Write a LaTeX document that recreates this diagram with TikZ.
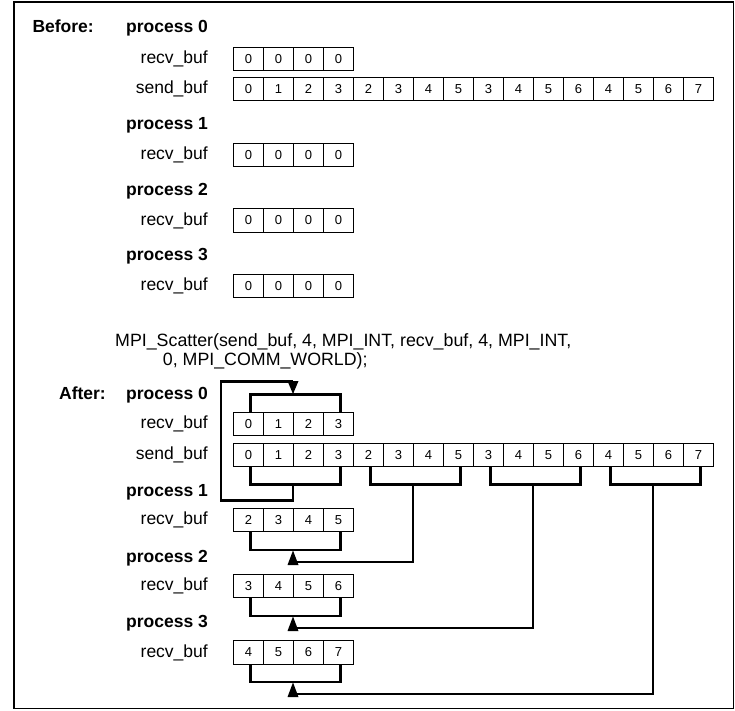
\documentclass[tikz,border=0pt]{standalone}
\usepackage{fontspec}
\setmainfont{Liberation Sans}
\begin{document}
\begin{tikzpicture}[x=1pt,y=-1pt,
  cellbox/.style={draw,line width=0.8pt,minimum width=30pt,minimum height=23.5pt,inner sep=0pt,font=\fontsize{13}{13}\selectfont,anchor=west},
  lbl/.style={anchor=base east,inner sep=0pt,font=\fontsize{17.5}{17.5}\selectfont},
  proc/.style={anchor=base west,inner sep=0pt,font=\fontsize{17.5}{17.5}\selectfont\bfseries},
  hdr/.style={anchor=base east,inner sep=0pt,font=\fontsize{17.5}{17.5}\selectfont\bfseries},
  calltxt/.style={anchor=west,inner sep=0pt,font=\fontsize{17.8}{17.8}\selectfont},
  conn/.style={line width=2.8pt,line join=miter},
  tip/.style={fill=black}]
\useasboundingbox (0,0) rectangle (735,710);
\draw[line width=1.2pt] (14,1.5) rectangle (733.5,708.5);
\draw[line width=2pt] (14,708.5) -- (14,1.5) -- (733.5,1.5);

% ---------- Before ----------
\node[hdr] (before) at (94,32.3) {Before:};
\node[proc] (bp0) at (126,32.3) {process 0};
\node[lbl] (br0l) at (208,63.5) {recv\_buf};
\foreach \i in {0,...,3}{\node[cellbox] (br0c\i) at (233+30*\i,58.8) {0};}
\node[lbl] (bsl) at (208,93.5) {send\_buf};
\foreach \v [count=\i from 0] in {0,1,2,3,2,3,4,5,3,4,5,6,4,5,6,7}{\node[cellbox] (bs\i) at (233+30*\i,89) {\v};}
\node[proc] (bp1) at (126,129.5) {process 1};
\node[lbl] (br1l) at (208,159.5) {recv\_buf};
\foreach \i in {0,...,3}{\node[cellbox] (br1c\i) at (233+30*\i,155) {0};}
\node[proc] (bp2) at (126,195) {process 2};
\node[lbl] (br2l) at (208,225) {recv\_buf};
\foreach \i in {0,...,3}{\node[cellbox] (br2c\i) at (233+30*\i,220.5) {0};}
\node[proc] (bp3) at (126,260.5) {process 3};
\node[lbl] (br3l) at (208,290.5) {recv\_buf};
\foreach \i in {0,...,3}{\node[cellbox] (br3c\i) at (233+30*\i,286) {0};}

% ---------- call ----------
\node[calltxt] (call1) at (115,341.7) {MPI\_Scatter(send\_buf, 4, MPI\_INT, recv\_buf, 4, MPI\_INT,};
\node[calltxt] (call2) at (162.7,360.5) {0, MPI\_COMM\_WORLD);};

% ---------- After ----------
\node[hdr] (after) at (106,399) {After:};
\node[proc] (ap0) at (126,399) {process 0};
\node[lbl] (ar0l) at (208,428.5) {recv\_buf};
\foreach \v [count=\i from 0] in {0,1,2,3}{\node[cellbox] (ar0c\i) at (233+30*\i,424) {\v};}
\node[lbl] (asl) at (208,459.5) {send\_buf};
\foreach \v [count=\i from 0] in {0,1,2,3,2,3,4,5,3,4,5,6,4,5,6,7}{\node[cellbox] (as\i) at (233+30*\i,455) {\v};}
\node[proc] (ap1) at (126,496.5) {process 1};
\node[lbl] (ar1l) at (208,524.5) {recv\_buf};
\foreach \v [count=\i from 0] in {2,3,4,5}{\node[cellbox] (ar1c\i) at (233+30*\i,520) {\v};}
\node[proc] (ap2) at (126,562) {process 2};
\node[lbl] (ar2l) at (208,590.5) {recv\_buf};
\foreach \v [count=\i from 0] in {3,4,5,6}{\node[cellbox] (ar2c\i) at (233+30*\i,586) {\v};}
\node[proc] (ap3) at (126,627.5) {process 3};
\node[lbl] (ar3l) at (208,657) {recv\_buf};
\foreach \v [count=\i from 0] in {4,5,6,7}{\node[cellbox] (ar3c\i) at (233+30*\i,652.5) {\v};}

% brackets under send_buf groups
\foreach \g in {0,1,2,3}{
  \pgfmathtruncatemacro{\a}{4*\g}\pgfmathtruncatemacro{\b}{4*\g+3}
  \draw[conn] ([xshift=2pt]as\a.south) -- ([xshift=2pt]as\a.south |- 0,484.5) -| ([xshift=2pt]as\b.south);
}
% bracket above recv_buf of process 0
\draw[conn] ([xshift=2pt]ar0c0.north) -- ([xshift=2pt]ar0c0.north |- 0,394.5) -| ([xshift=2pt]ar0c3.north);
% brackets below recv_buf of processes 1..3
\draw[conn] ([xshift=2pt]ar1c0.south) -- ([xshift=2pt]ar1c0.south |- 0,550) -| ([xshift=2pt]ar1c3.south);
\draw[conn] ([xshift=2pt]ar2c0.south) -- ([xshift=2pt]ar2c0.south |- 0,616) -| ([xshift=2pt]ar2c3.south);
\draw[conn] ([xshift=2pt]ar3c0.south) -- ([xshift=2pt]ar3c0.south |- 0,682) -| ([xshift=2pt]ar3c3.south);

% route coordinates
\coordinate (g0) at (293,484.5);
\coordinate (g1) at (413,484.5);
\coordinate (g2) at (533,484.5);
\coordinate (g3) at (653,484.5);
\coordinate (t0) at (293,394);
\coordinate (t1) at (293,550.5);
\coordinate (t2) at (293,616.5);
\coordinate (t3) at (293,682.5);
\coordinate (lp1) at (221,500.5);
\coordinate (lp2) at (221,381.5);

% process 0 loop
\draw[conn] (g0) |- (lp1) -- (lp2) -- (293,381.5);
\fill[tip] (287.5,381) -- (298.5,381) -- (t0) -- cycle;
% other processes
\draw[conn] (g1) |- (293,562);
\fill[tip] (287.5,565) -- (298.5,565) -- (t1) -- cycle;
\draw[conn] (g2) |- (293,628);
\fill[tip] (287.5,631) -- (298.5,631) -- (t2) -- cycle;
\draw[conn] (g3) |- (293,694);
\fill[tip] (287.5,697) -- (298.5,697) -- (t3) -- cycle;
\end{tikzpicture}
\end{document}
